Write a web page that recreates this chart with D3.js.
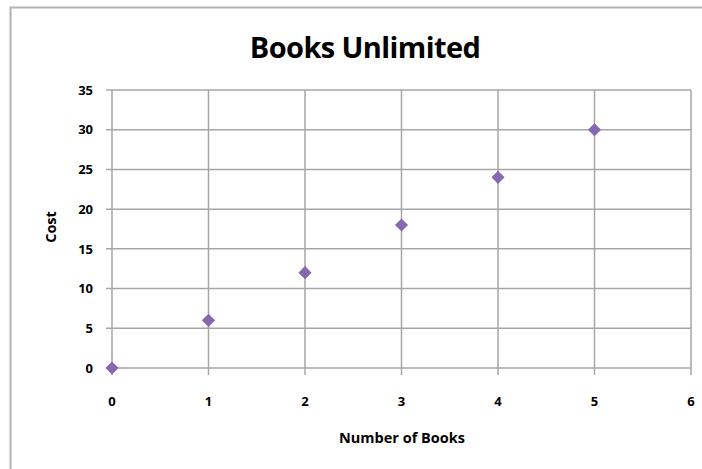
<!DOCTYPE html>
<html>
<head>
<meta charset="utf-8">
<script src="https://cdn.jsdelivr.net/npm/d3@7"></script>
<style>
  body { margin: 0; background: #fff; }
  text { font-family: "Open Sans", "Noto Sans", sans-serif; font-weight: bold; fill: #000; }
</style>
</head>
<body>
<div id="chart"></div>
<script>
const books = [0, 1, 2, 3, 4, 5];
const cost = [0, 6, 12, 18, 24, 30];
const xTicks = [0, 1, 2, 3, 4, 5, 6];
const yTicks = [0, 5, 10, 15, 20, 25, 30, 35];

const W = 702, H = 469;
const margin = {top: 90, right: 11, bottom: 101, left: 112};

const svg = d3.select("#chart").append("svg")
  .attr("width", W)
  .attr("height", H);

// outer chart border (cut off at right and bottom)
svg.append("path")
  .attr("d", "M10.5," + H + "V7.5H" + W)
  .attr("fill", "none")
  .attr("stroke", "#b3b3b3")
  .attr("stroke-width", 2);

const x = d3.scaleLinear().domain([0, 6]).range([margin.left, W - margin.right]);
const y = d3.scaleLinear().domain([0, 35]).range([H - margin.bottom, margin.top]);

const gridColor = "#a6a6a6";

// gridlines
svg.append("g").selectAll("line.h")
  .data(yTicks)
  .enter().append("line")
  .attr("x1", x(0) - 6).attr("x2", x(6))
  .attr("y1", d => y(d)).attr("y2", d => y(d))
  .attr("stroke", gridColor).attr("stroke-width", 1.5);

svg.append("g").selectAll("line.v")
  .data(xTicks)
  .enter().append("line")
  .attr("x1", d => x(d)).attr("x2", d => x(d))
  .attr("y1", y(35)).attr("y2", y(0) + 7)
  .attr("stroke", gridColor).attr("stroke-width", 1.5);

// tick labels
svg.append("g").selectAll("text")
  .data(yTicks)
  .enter().append("text")
  .attr("x", x(0) - 19)
  .attr("y", d => y(d))
  .attr("dy", "0.36em")
  .attr("text-anchor", "end")
  .style("font-size", "13px")
  .text(d => d);

svg.append("g").selectAll("text")
  .data(xTicks)
  .enter().append("text")
  .attr("x", d => x(d))
  .attr("y", y(0) + 38)
  .attr("text-anchor", "middle")
  .style("font-size", "13px")
  .text(d => d);

// title
svg.append("text")
  .attr("x", 365)
  .attr("y", 58)
  .attr("text-anchor", "middle")
  .style("font-size", "29px")
  .style("letter-spacing", "-0.6px")
  .text("Books Unlimited");

// axis titles
svg.append("text")
  .attr("x", 402)
  .attr("y", 443)
  .attr("text-anchor", "middle")
  .style("font-size", "14.5px")
  .text("Number of Books");

svg.append("text")
  .attr("transform", "translate(56," + 227 + ") rotate(-90)")
  .attr("text-anchor", "middle")
  .style("font-size", "14.5px")
  .text("Cost");

// points
const diamond = d3.symbol().type(d3.symbolDiamond2).size(110);
svg.append("g").selectAll("path")
  .data(books.map((b, i) => [b, cost[i]]))
  .enter().append("path")
  .attr("d", diamond)
  .attr("transform", d => "translate(" + x(d[0]) + "," + y(d[1]) + ")")
  .attr("fill", "#8468b0");
</script>
</body>
</html>
